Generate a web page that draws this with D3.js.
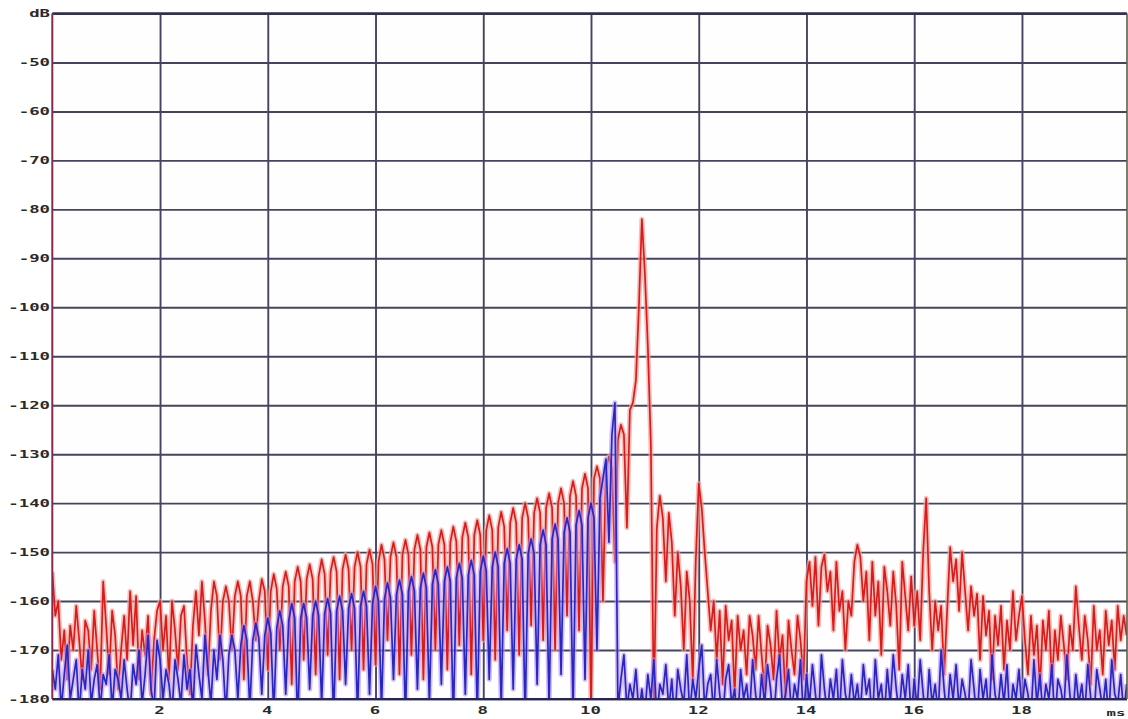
<!DOCTYPE html>
<html>
<head>
<meta charset="utf-8">
<script src="https://cdn.jsdelivr.net/npm/d3@7"></script>
<style>
  html, body { margin: 0; padding: 0; background: #ffffff; }
  svg { display: block; }
  .axis text { font-family: "DejaVu Sans Mono", "Liberation Mono", monospace; font-weight: bold; font-size: 10.5px; fill: #2a2a2a; }
  .axis .domain { display: none; }
</style>
</head>
<body>
<svg id="chart" width="1128" height="719"></svg>
<script>
// Sample spacing of both traces, in ms (18 samples per ms)
const sampleStep = 1 / 18;

// Tick values and labels
const timeTicks = [2, 4, 6, 8, 10, 12, 14, 16, 18];
const levelTicks = [-40, -50, -60, -70, -80, -90, -100, -110, -120, -130, -140, -150, -160, -170, -180];
const levelTickLabels = ["dB", "-50", "-60", "-70", "-80", "-90", "-100", "-110", "-120", "-130", "-140", "-150", "-160", "-170", "-180"];

// Red trace, dB, one row per ms
const redLevels = [
  -154, -163, -160, -172, -166, -176, -165, -170, -161, -168, -176, -164, -166, -174, -162, -170, -178, -156,
  -165, -175, -162, -167, -178, -170, -163, -172, -158, -169, -159, -176, -166, -171, -163, -179, -168, -162,
  -160, -170, -163, -176, -160, -166, -174, -163, -161, -172, -179, -165, -158, -167, -156, -164, -175, -162,
  -156, -159, -172, -160, -157, -160, -170, -159, -156, -159, -176, -159, -156, -160, -168, -160, -155.5, -158,
  -174, -158, -154.5, -157.5, -170, -157, -154, -157, -177, -156, -153, -156, -172, -155.5, -152.5, -155.5, -175, -155,
  -151.5, -154.5, -171, -154, -151, -154, -176, -153.5, -150.5, -153.5, -170, -153, -150, -153, -174, -152.5, -149.5, -152.5,
  -173, -152, -148.5, -151.5, -168, -151, -148, -151, -175, -150.5, -147.5, -150.5, -171, -149.5, -146.5, -149.5, -176, -149,
  -146, -149, -170, -148.5, -145.5, -148.5, -174, -148, -144.8, -147.8, -169, -147, -144, -147, -175, -146.5, -143.5, -146.5,
  -168, -145.5, -142.5, -145.5, -172, -145, -141.8, -144.8, -166, -144, -141, -144, -171, -143, -140, -143, -165, -142,
  -139, -142, -168, -141, -138, -141, -170, -140, -137, -140, -163, -138.5, -135.5, -138.5, -166, -137, -134, -137,
  -182, -135, -132.5, -135, -160, -133, -130.5, -133, -152, -127, -124, -126, -145, -121, -119.5, -115, -100, -82,
  -93, -108, -128, -182, -145, -138.5, -143, -156, -142, -148, -163, -150, -157, -170, -154, -160, -176, -152,
  -136, -141, -150, -158, -166, -160, -172, -162, -177, -161, -168, -164, -179, -163, -170, -166, -175, -163,
  -167, -174, -163, -171, -178, -165, -169, -176, -162, -172, -167, -180, -164, -170, -175, -163, -168, -176,
  -156, -152, -161, -151, -165, -153, -150.5, -158, -154, -166, -152, -162, -158, -170, -160, -163, -152, -148.5,
  -151, -160, -154, -168, -152, -163, -156, -171, -153, -158, -165, -154, -161, -174, -152, -159, -166, -155,
  -165, -158, -168, -150, -139, -158, -170, -160, -166, -161, -175, -162, -149, -156, -151.5, -162, -150, -158,
  -166, -157, -163, -158.5, -172, -159, -167, -162, -176, -163, -169, -161, -174, -164, -170, -158, -168, -163,
  -159, -168, -175, -163, -171, -165, -178, -164, -170, -162, -177, -166, -172, -163, -169, -176, -165, -170,
  -157, -165, -172, -163, -168, -177, -161, -170, -166, -175, -162, -169, -164, -174, -161, -168, -163, -167
];

// Blue trace, dB, one row per ms
const blueLevels = [
  -174, -178, -171, -182, -175, -169, -180, -176, -172, -183, -174, -178, -170, -181, -176, -173, -182, -175,
  -177, -171, -182, -174, -176, -180, -172, -178, -183, -173, -177, -170, -181, -175, -167, -178, -182, -168,
  -172, -180, -174, -177, -183, -172, -176, -181, -171, -178, -174, -182, -169, -175, -180, -167, -174, -181,
  -170, -176, -167, -172, -183, -171, -167, -170, -180, -169, -165, -168, -182, -168, -164.5, -167.5, -179, -167,
  -163.5, -166.5, -183, -165.5, -162, -165, -179, -164, -160.5, -163.5, -185, -163.5, -160.5, -163.5, -178, -163, -160, -163,
  -181, -162.5, -159.5, -162.5, -184, -162, -159, -162, -177, -161.5, -158.5, -161.5, -183, -161, -158, -161, -179, -160.5,
  -157, -160, -182, -159.5, -156.3, -159.3, -176, -158.7, -155.7, -158.7, -184, -158, -155, -158, -178, -157.3, -154.3, -157.3,
  -181, -156.6, -153.6, -156.6, -177, -156, -153, -156, -185, -155.3, -152.3, -155.3, -179, -154.7, -151.7, -154.7, -183, -154,
  -150.8, -153.8, -176, -153, -150, -153, -182, -152.3, -149.3, -152.3, -178, -151.5, -148.5, -151.5, -184, -150.3, -147.3, -150.3,
  -177, -148.5, -145.5, -148.5, -182, -147.3, -144.3, -147.3, -175, -146, -143, -146, -183, -144.5, -141.5, -144.5, -176, -143,
  -140, -143, -170, -139, -135, -131, -148, -126, -119.5, -182, -176, -171, -182, -177, -180, -174, -183, -178,
  -183, -175, -180, -172, -184, -177, -179, -173, -182, -176, -185, -174, -178, -181, -171, -183, -176, -180,
  -174, -169, -182, -177, -175, -183, -172, -179, -184, -176, -173, -181, -178, -185, -174, -180, -177, -183,
  -172, -179, -184, -175, -181, -173, -178, -185, -176, -171, -182, -179, -174, -183, -177, -180, -172, -184,
  -175, -181, -173, -179, -185, -171, -178, -183, -176, -180, -174, -184, -172, -179, -182, -175, -181, -177,
  -183, -173, -179, -176, -185, -172, -180, -177, -184, -174, -181, -171, -178, -183, -175, -180, -173, -184,
  -176, -182, -172, -179, -185, -174, -181, -177, -183, -170, -178, -184, -175, -180, -173, -182, -176, -179,
  -183, -172, -178, -185, -174, -180, -176, -184, -171, -179, -182, -175, -181, -173, -185, -177, -180, -174,
  -182, -176, -179, -184, -172, -181, -175, -183, -177, -180, -173, -185, -176, -178, -182, -171, -179, -184,
  -175, -181, -177, -183, -173, -180, -185, -174, -178, -182, -176, -184, -172, -179, -181, -175, -183, -177
];

const svg = d3.select("#chart");
const plot = { left: 52.3, right: 1127, top: 13.5, bottom: 699 };
const labelStretch = 1.65;

const x = d3.scaleLinear().domain([0, 19.95]).range([plot.left, plot.right]);
const y = d3.scaleLinear().domain([-40, -180]).range([plot.top, plot.bottom]);

// Plot background
svg.append("rect")
  .attr("x", plot.left).attr("y", plot.top)
  .attr("width", plot.right - plot.left).attr("height", plot.bottom - plot.top)
  .attr("fill", "#fefeff");

// Horizontal grid + level labels (wide bold glyphs)
const yAxis = svg.append("g")
  .attr("class", "axis y-axis")
  .attr("transform", `translate(${plot.left},0)`)
  .call(d3.axisLeft(y)
    .tickValues(levelTicks)
    .tickFormat((d, i) => levelTickLabels[i])
    .tickSize(-(plot.right - plot.left))
    .tickPadding(1.4));
yAxis.selectAll(".tick line")
  .attr("stroke", "#444460")
  .attr("stroke-width", 1.9);
yAxis.selectAll(".tick text")
  .attr("x", -1.4)
  .attr("transform", `scale(${labelStretch},1)`);

// Vertical grid + time labels
const xAxis = svg.append("g")
  .attr("class", "axis x-axis")
  .attr("transform", `translate(0,${plot.bottom})`)
  .call(d3.axisBottom(x)
    .tickValues(timeTicks)
    .tickFormat(d => d)
    .tickSize(-(plot.bottom - plot.top))
    .tickPadding(8));
xAxis.selectAll(".tick line")
  .attr("stroke", "#444460")
  .attr("stroke-width", 1.9);
xAxis.selectAll(".tick text")
  .attr("x", -0.6)
  .attr("transform", `scale(${labelStretch},1)`);

// Unit label at the end of the time axis
svg.append("g")
  .attr("class", "axis")
  .attr("transform", "translate(1116,716)")
  .append("text")
  .attr("text-anchor", "middle")
  .attr("transform", `scale(${labelStretch},1)`)
  .style("font-size", "9.5px")
  .text("ms");

// Traces, clipped to the plot frame
svg.append("clipPath").attr("id", "plot-clip")
  .append("rect")
  .attr("x", plot.left).attr("y", plot.top)
  .attr("width", plot.right - plot.left).attr("height", plot.bottom - plot.top);

const traceLine = d3.line()
  .x((d, i) => x(i * sampleStep))
  .y(d => y(d));

const traces = svg.append("g").attr("clip-path", "url(#plot-clip)");

// Each trace: a soft wide underlay plus a saturated core line
function drawTrace(values, haloColor, haloOpacity, coreColor) {
  traces.append("path")
    .datum(values)
    .attr("fill", "none")
    .attr("stroke", haloColor)
    .attr("stroke-width", 5)
    .attr("stroke-opacity", haloOpacity)
    .attr("stroke-linejoin", "round")
    .attr("d", traceLine);
  traces.append("path")
    .datum(values)
    .attr("fill", "none")
    .attr("stroke", coreColor)
    .attr("stroke-width", 1.7)
    .attr("stroke-linejoin", "round")
    .attr("d", traceLine);
}

drawTrace(redLevels, "#f4a49c", 0.7, "#d81c1c");
drawTrace(blueLevels, "#b890f2", 0.6, "#2828c0");

// Plot frame
svg.append("line")
  .attr("x1", plot.left).attr("x2", plot.right)
  .attr("y1", plot.top).attr("y2", plot.top)
  .attr("stroke", "#2e2e4e").attr("stroke-width", 2.4);
svg.append("line")
  .attr("x1", plot.left).attr("x2", plot.right)
  .attr("y1", plot.bottom).attr("y2", plot.bottom)
  .attr("stroke", "#24245e").attr("stroke-width", 2.2);
svg.append("line")
  .attr("x1", plot.left).attr("x2", plot.left)
  .attr("y1", plot.top).attr("y2", plot.bottom)
  .attr("stroke", "#8a2a4a").attr("stroke-width", 2);
svg.append("line")
  .attr("x1", plot.right).attr("x2", plot.right)
  .attr("y1", plot.top).attr("y2", plot.bottom)
  .attr("stroke", "#56604a").attr("stroke-width", 1.6);
</script>
</body>
</html>
